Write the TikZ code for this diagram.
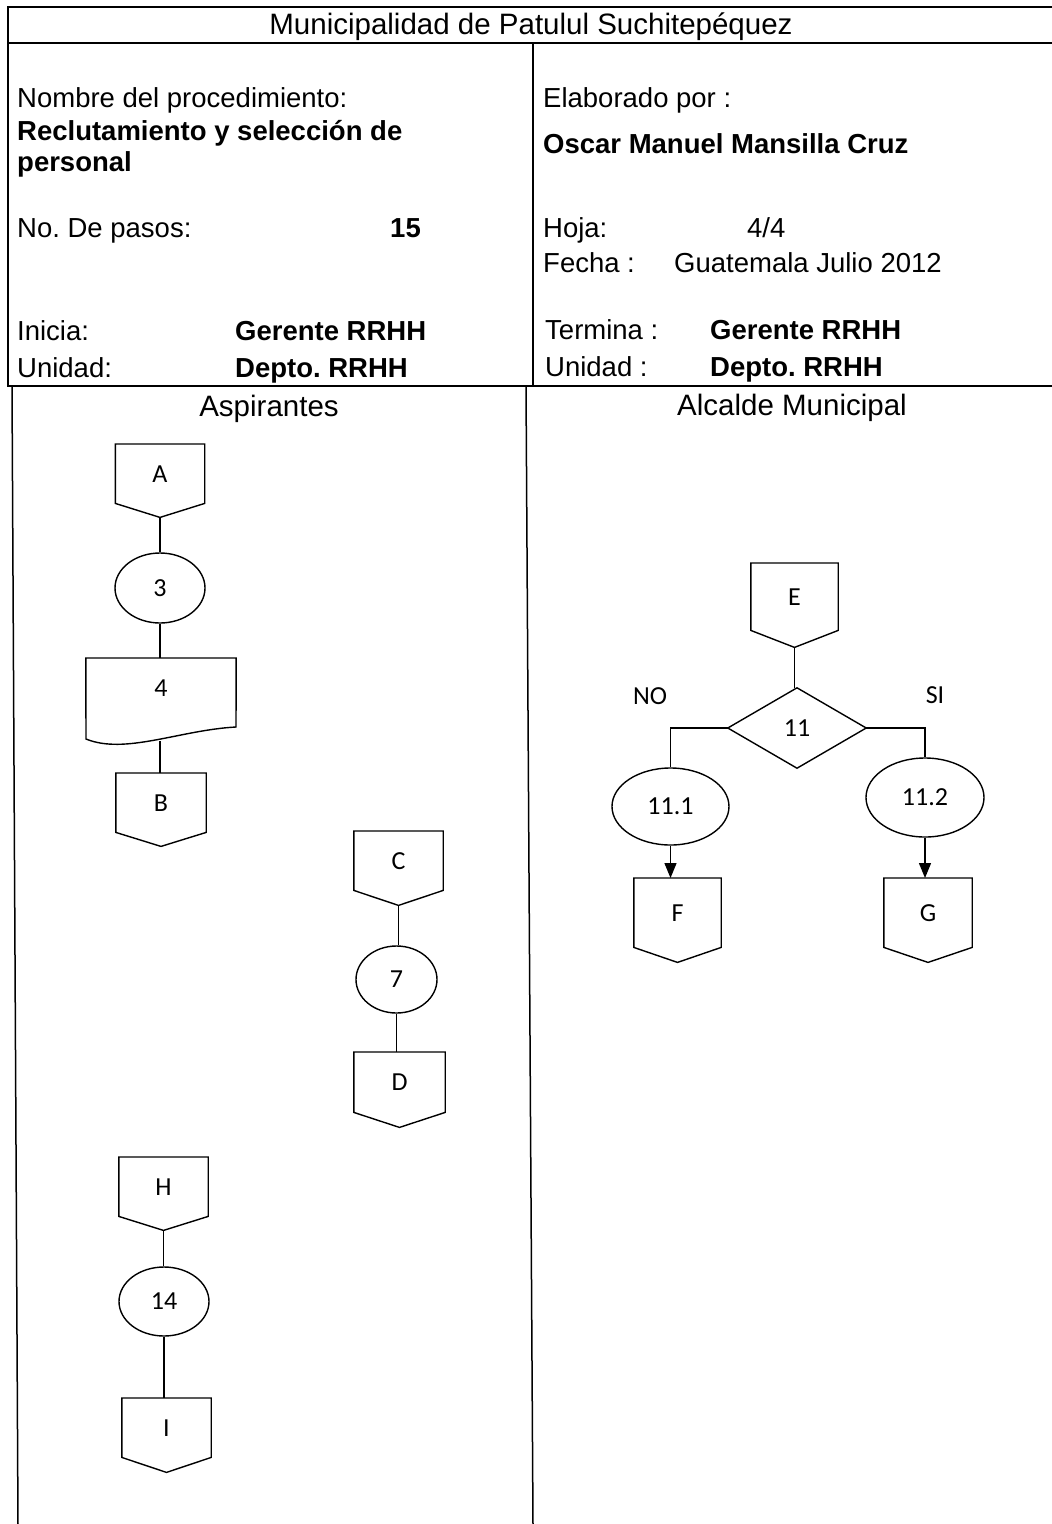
\documentclass[tikz,border=0pt]{standalone}
\usepackage{fontspec}
\setmainfont{Liberation Sans}
\newfontfamily\flowfont{Carlito}
\usetikzlibrary{shapes.geometric,arrows.meta}
\frenchspacing
\tikzset{
  frame/.style={line width=1.5pt},
  sline/.style={line width=1.4pt},
  hdr/.style={inner sep=0pt, anchor=base west, font=\fontsize{27.5}{33}\selectfont},
  hdrb/.style={hdr, font=\bfseries\fontsize{27.5}{33}\selectfont},
  lane/.style={inner sep=0pt, anchor=base, font=\fontsize{29.5}{35}\selectfont},
  offbox/.style={draw=none, inner sep=0pt, anchor=north, font=\flowfont\fontsize{26}{30}\selectfont},
  proc/.style={ellipse, draw, sline, inner sep=0pt, font=\flowfont\fontsize{26}{30}\selectfont},
  lbl/.style={inner sep=0pt, font=\flowfont\fontsize{26}{30}\selectfont},
  arr/.style={sline, -{Triangle[length=15pt,width=12pt]}}
}
\newcommand\offpg[7]{%
  \node[offbox, minimum width=#4pt, minimum height=#5pt] (#1) at (#2,#3) {#7};
  \coordinate (#1-tip) at ([yshift=-#6pt]#1.south);
  \draw[sline] (#1.north west) -- (#1.south west) -- (#1-tip) -- (#1.south east) -- (#1.north east) -- cycle;}
\begin{document}
\frenchspacing
\begin{tikzpicture}[x=1pt,y=-1pt]
\useasboundingbox (0,0) rectangle (1052,1524);
% frame
\draw[frame] (1052,7) -- (8,7) -- (8,386) -- (1052,386);
\draw[frame] (8,43) -- (1052,43);
\draw[frame] (533,43) -- (533,386);
\draw[frame] (12,386) -- (18,1524);
\draw[frame] (526,386) -- (533,1524);
% header texts
\node[lane] (title) at (531,34) {Municipalidad de Patulul Suchitepéquez};
\node[hdr] (nom) at (17,107) {Nombre del procedimiento:};
\node[hdrb] (rec1) at (17,140) {Reclutamiento y selección de};
\node[hdrb] (rec2) at (17,171) {personal};
\node[hdr] (pasos) at (17,237) {No. De pasos:};
\node[hdrb, anchor=base east] (npasos) at (421,237) {15};
\node[hdr] (inicia) at (17,340) {Inicia:};
\node[hdrb] (ger1) at (235,340) {Gerente RRHH};
\node[hdr] (uni1) at (17,377) {Unidad:};
\node[hdrb] (dep1) at (235,377) {Depto. RRHH};
\node[hdr] (elab) at (543,107) {Elaborado por :};
\node[hdrb] (autor) at (543,153) {Oscar Manuel Mansilla Cruz};
\node[hdr] (hoja) at (543,237) {Hoja:};
\node[hdr] (nhoja) at (747,237) {4/4};
\node[hdr] (fecha) at (543,272) {Fecha :};
\node[hdr] (vfecha) at (674,272) {Guatemala Julio 2012};
\node[hdr] (termina) at (545,339) {Termina :};
\node[hdrb] (ger2) at (710,339) {Gerente RRHH};
\node[hdr] (uni2) at (545,376) {Unidad :};
\node[hdrb] (dep2) at (710,376) {Depto. RRHH};
\node[lane] (asp) at (269,416) {Aspirantes};
\node[lane] (alc) at (792,415) {Alcalde Municipal};
% Aspirantes lane
\offpg{A}{160}{444}{89}{59}{14}{A}
\node[proc, minimum width=90pt, minimum height=70pt] (e3) at (160,588) {3};
\node[offbox, minimum width=150pt, minimum height=60pt] (d4) at (161,658) {4};
\draw[sline] (d4.south west |- d4.north) -- (d4.north east) -- (236,727)
  .. controls (180,730) and (125,755) .. (86,739) -- cycle;
\coordinate (d4b) at (160,741);
\offpg{B}{161}{773}{90}{59}{14}{B}
\draw[sline] (A-tip) -- (A-tip |- e3.north);
\draw[sline] (e3.south) -- (e3.south |- d4.north);
\draw[sline] (d4b) -- (d4b |- B.north);
\offpg{C}{398.5}{831}{89}{59}{15}{C}
\node[proc, minimum width=81pt, minimum height=67pt] (e7) at (396.5,979.5) {7};
\offpg{D}{399.5}{1052}{91}{60}{15}{D}
\draw[sline] (C-tip) -- (C-tip |- e7.north);
\draw[sline] (e7.south) -- (e7.south |- D.north);
\offpg{H}{163.5}{1157}{89}{59}{14}{H}
\node[proc, minimum width=90pt, minimum height=69pt] (e14) at (164,1301.5) {14};
\offpg{I}{166.5}{1398}{89}{59}{15}{I}
\draw[sline] (H-tip) -- (H-tip |- e14.north);
\draw[sline] (e14.south) -- (e14.south |- I.north);
% Alcalde lane
\offpg{E}{794.5}{563}{87}{67}{17}{E}
\node[draw=none, inner sep=0pt, minimum width=138pt, minimum height=80pt, font=\flowfont\fontsize{26}{30}\selectfont] (d11) at (797,728) {11};
\draw[sline] (d11.north) -- (d11.east) -- (d11.south) -- (d11.west) -- cycle;
\draw[sline] (E-tip) -- (E-tip |- d11.north);
\node[proc, minimum width=117pt, minimum height=77pt] (e111) at (670.5,806.5) {11.1};
\node[proc, minimum width=118pt, minimum height=79pt] (e112) at (925,797.5) {11.2};
\draw[sline] (d11.west) -| (e111.north);
\draw[sline] (d11.east) -| (e112.north);
\node[lbl] (no) at (650,696) {NO};
\node[lbl] (si) at (935,695) {SI};
\offpg{F}{677.5}{878}{87}{69}{15}{F}
\offpg{G}{928}{878}{88}{69}{15}{G}
\draw[arr] (e111.south) -- (e111.south |- F.north);
\draw[arr] (e112.south) -- (e112.south |- G.north);
\end{tikzpicture}
\end{document}
